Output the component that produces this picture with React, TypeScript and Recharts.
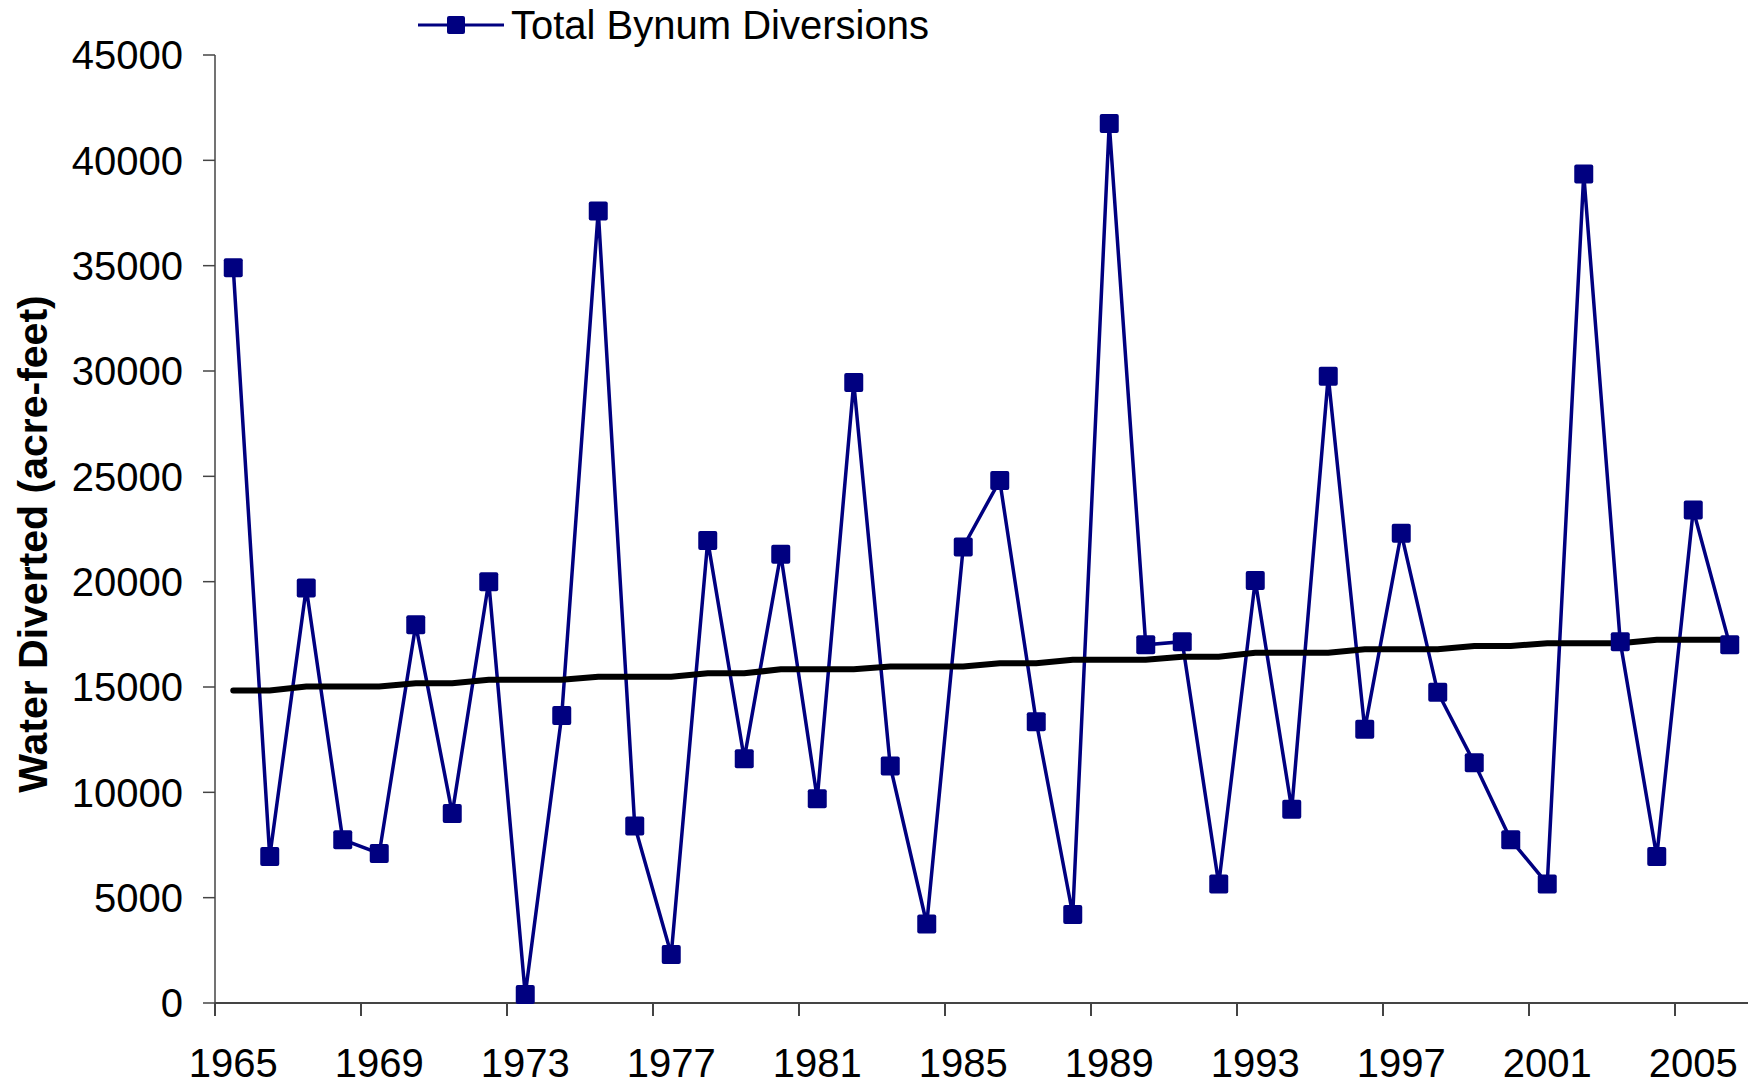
import { LineChart, Line, XAxis, YAxis } from 'recharts'

// ─── Data ─────────────────────────────────────────────────────────────────────

const years = [
  1965, 1966, 1967, 1968, 1969, 1970, 1971, 1972, 1973, 1974, 1975, 1976, 1977, 1978,
  1979, 1980, 1981, 1982, 1983, 1984, 1985, 1986, 1987, 1988, 1989, 1990, 1991, 1992,
  1993, 1994, 1995, 1996, 1997, 1998, 1999, 2000, 2001, 2002, 2003, 2004, 2005, 2006,
]

// Total Bynum diversions, acre-feet
const diversions = [
  34900, 6950, 19700, 7750, 7100, 17950, 9000, 20000, 400, 13650, 37600, 8400, 2300, 21950,
  11600, 21300, 9700, 29450, 11250, 3750, 21650, 24800, 13350, 4200, 41750, 17000, 17150, 5650,
  20050, 9200, 29750, 13000, 22300, 14750, 11400, 7750, 5650, 39350, 17150, 6950, 23400, 17000,
]

// trend line (as drawn, slightly stepped)
const trend = [
  14830, 14830, 15020, 15020, 15020, 15180, 15180, 15340, 15340, 15340, 15490, 15490, 15490, 15650,
  15650, 15840, 15840, 15840, 15970, 15970, 15970, 16130, 16130, 16290, 16290, 16290, 16440, 16440,
  16630, 16630, 16630, 16790, 16790, 16790, 16950, 16950, 17080, 17080, 17080, 17240, 17240, 17240,
]

const yTicks = [0, 5000, 10000, 15000, 20000, 25000, 30000, 35000, 40000, 45000]
const labelYears = [1965, 1969, 1973, 1977, 1981, 1985, 1989, 1993, 1997, 2001, 2005]
// tick marks sit on category boundaries, every 4 years
const boundaryTicks = [1964.5, 1968.5, 1972.5, 1976.5, 1980.5, 1984.5, 1988.5, 1992.5, 1996.5, 2000.5, 2004.5]

const seriesName = 'Total Bynum Diversions'
const yTitle = 'Water Diverted (acre-feet)'

// ─── Styles ───────────────────────────────────────────────────────────────────

const NAVY = '#000080'
const AXIS = '#444444'
const FONT = '"Liberation Sans", Arial, sans-serif'
const W = 1750
const H = 1087

// ─── Pieces ───────────────────────────────────────────────────────────────────

function SquareDot(props: any) {
  const { cx, cy, index } = props
  if (cx == null || cy == null) return null
  return <rect key={`sq-${index}`} x={cx - 9.5} y={cy - 9.5} width={19} height={19} rx={2} fill={NAVY} />
}

function YTitle(props: any) {
  const { x, y, height } = props.viewBox
  const cx = x + 33
  const cy = y + height / 2 + 15
  return (
    <text
      x={cx}
      y={cy}
      transform={`rotate(-90 ${cx} ${cy})`}
      textAnchor="middle"
      dominantBaseline="central"
      fontFamily={FONT}
      fontWeight="bold"
      fontSize={41}
      fill="#000"
    >
      {yTitle}
    </text>
  )
}

function LegendBox() {
  return (
    <div
      style={{
        position: 'absolute',
        left: 418,
        top: 0,
        height: 50,
        display: 'flex',
        alignItems: 'center',
        fontFamily: FONT,
        fontSize: 40,
        color: '#000',
      }}
    >
      <svg width={86} height={20} style={{ display: 'block' }}>
        <line x1={0} y1={10} x2={86} y2={10} stroke={NAVY} strokeWidth={3} />
        <rect x={29} y={1} width={18} height={18} rx={2} fill={NAVY} />
      </svg>
      <span style={{ marginLeft: 7, whiteSpace: 'nowrap' }}>{seriesName}</span>
    </div>
  )
}

// ─── Chart ────────────────────────────────────────────────────────────────────

export default function App() {
  const data = years.map((year, i) => ({ year, total: diversions[i], trend: trend[i] }))

  return (
    <div style={{ position: 'absolute', left: 0, top: 0, width: W, height: H, background: '#fff' }}>
      <LineChart width={W} height={H} data={data} margin={{ top: 55, right: 2, left: 0, bottom: 0 }}>
        {/* axis line + boundary tick marks, sits right on the plot */}
        <XAxis
          xAxisId="a"
          dataKey="year"
          type="number"
          domain={[1964.5, 2006.5]}
          ticks={boundaryTicks}
          interval={0}
          tickFormatter={() => ''}
          tickSize={13}
          height={1}
          stroke={AXIS}
          strokeWidth={2}
          allowDataOverflow
        />
        {/* year labels at category centres */}
        <XAxis
          xAxisId="b"
          dataKey="year"
          type="number"
          domain={[1964.5, 2006.5]}
          ticks={labelYears}
          interval={0}
          axisLine={false}
          tickLine={false}
          tickSize={0}
          tickMargin={45}
          height={83}
          tick={{ fontSize: 40, fill: '#000', fontFamily: FONT }}
          allowDataOverflow
        />
        <YAxis
          domain={[0, 45000]}
          ticks={yTicks}
          interval={0}
          width={215}
          tickSize={12}
          tickMargin={20}
          stroke={AXIS}
          strokeWidth={1.5}
          tick={{ fontSize: 40, fill: '#000', fontFamily: FONT }}
          label={<YTitle />}
        />

        <Line
          xAxisId="b"
          type="linear"
          dataKey="total"
          name={seriesName}
          stroke={NAVY}
          strokeWidth={3.5}
          dot={<SquareDot />}
          activeDot={false}
          isAnimationActive={false}
        />
        <Line
          xAxisId="b"
          type="linear"
          dataKey="trend"
          stroke="#000"
          strokeWidth={6}
          strokeLinecap="round"
          dot={false}
          activeDot={false}
          isAnimationActive={false}
        />
      </LineChart>
      <LegendBox />
    </div>
  )
}
